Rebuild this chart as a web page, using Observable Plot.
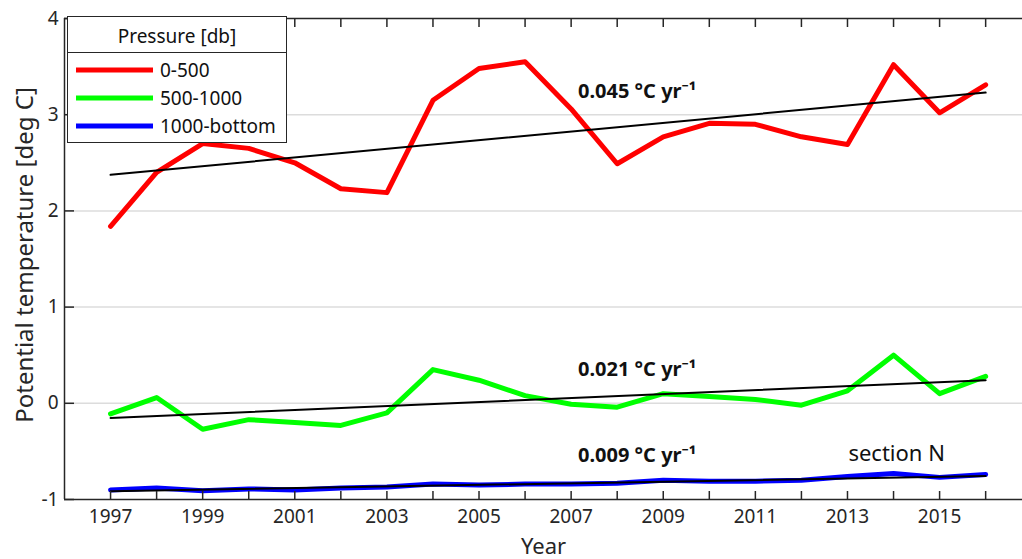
<!DOCTYPE html>
<html>
<head>
<meta charset="utf-8">
<script src="https://cdn.jsdelivr.net/npm/d3@7"></script>
<script src="https://cdn.jsdelivr.net/npm/@observablehq/plot@0.6"></script>
<style>
  body { margin: 0; background: #fff; }
  #wrap { position: relative; width: 1022px; height: 559px; font-family: "Noto Sans", sans-serif; color: #262626; }
  #legend { position: absolute; left: 67px; top: 16px; width: 218px; height: 125px; background: #fff;
            border: 1.5px solid #262626; box-sizing: content-box; }
  #legend .ttl { height: 35px; border-bottom: 1.5px solid #262626; text-align: center; font-size: 19px; line-height: 38px; color: #111; }
  #legend .items { padding-top: 3px; }
  #legend .item { height: 28px; display: flex; align-items: center; font-size: 19px; color: #111; }
  #legend .item svg { margin-left: 8px; margin-right: 7px; }
</style>
</head>
<body>
<div id="wrap"></div>
<script>
// ---- data ----
const years = [1997, 1998, 1999, 2000, 2001, 2002, 2003, 2004, 2005, 2006,
               2007, 2008, 2009, 2010, 2011, 2012, 2013, 2014, 2015, 2016];
const series = ["0-500", "500-1000", "1000-bottom"];
const colors = ["#ff0000", "#00ff00", "#0000ff"];
const temp0_500 = [1.84, 2.40, 2.70, 2.65, 2.50, 2.23, 2.19, 3.15, 3.48, 3.55,
                   3.06, 2.49, 2.77, 2.91, 2.90, 2.77, 2.69, 3.52, 3.02, 3.31];
const temp500_1000 = [-0.11, 0.06, -0.27, -0.17, -0.20, -0.23, -0.10, 0.35, 0.24, 0.08,
                      -0.01, -0.04, 0.10, 0.07, 0.04, -0.02, 0.13, 0.50, 0.10, 0.28];
const temp1000_bottom = [-0.90, -0.88, -0.91, -0.89, -0.90, -0.88, -0.87, -0.84, -0.85, -0.84,
                         -0.84, -0.83, -0.80, -0.81, -0.81, -0.80, -0.76, -0.73, -0.77, -0.74];
const trendStart = [2.375, -0.152, -0.915];   // trend value at 1997
const trendEnd = [3.23, 0.24, -0.756];        // trend value at 2016
const trendLabels = ["0.045 °C yr⁻¹", "0.021 °C yr⁻¹", "0.009 °C yr⁻¹"];
const trendLabelX = [2007.15, 2007.15, 2007.15];
const trendLabelY = [3.17, 0.28, -0.605];
const sectionLabel = ["section N"];
const sectionX = [2013.02];
const sectionY = [-0.595];
const yTicks = [-1, 0, 1, 2, 3, 4];
const yGrid = [0, 1, 2, 3];
const xLabelYears = [1997, 1999, 2001, 2003, 2005, 2007, 2009, 2011, 2013, 2015];

// ---- tables ----
const values = [temp0_500, temp500_1000, temp1000_bottom];
const rows = series.flatMap((s, i) => years.map((yr, j) => ({series: s, year: yr, temp: values[i][j]})));
const trends = series.flatMap((s, i) => [
  {series: s, year: years[0], temp: trendStart[i]},
  {series: s, year: years[years.length - 1], temp: trendEnd[i]}
]);
const notes = trendLabels.map((t, i) => ({text: t, x: trendLabelX[i], y: trendLabelY[i]}));
const section = sectionLabel.map((t, i) => ({text: t, x: sectionX[i], y: sectionY[i]}));

const ink = "#262626";
const plot = Plot.plot({
  width: 1022, height: 559,
  marginLeft: 64, marginRight: 0, marginTop: 18, marginBottom: 60,
  style: {fontFamily: "Noto Sans", fontSize: "18px", color: ink, background: "white", overflow: "visible"},
  x: {domain: [1996, 2016.8]},
  y: {domain: [-1, 4]},
  color: {domain: series, range: colors},
  marks: [
    Plot.gridY(yGrid, {stroke: "#dcdcdc", strokeOpacity: 1, strokeWidth: 1.5}),
    Plot.line(rows, {x: "year", y: "temp", z: "series", stroke: "series", strokeWidth: 5, strokeLinejoin: "round"}),
    Plot.line(trends, {x: "year", y: "temp", z: "series", stroke: "black", strokeWidth: 2}),
    Plot.ruleY([-1, 4], {stroke: ink, strokeWidth: 1.5}),
    Plot.ruleX([1996], {stroke: ink, strokeWidth: 1.5}),
    Plot.axisX(years, {anchor: "bottom", tickSize: -8, tickFormat: () => "", stroke: ink, strokeWidth: 1.5, label: null}),
    Plot.axisX(years, {anchor: "top", tickSize: -8, tickFormat: () => "", stroke: ink, strokeWidth: 1.5, label: null}),
    Plot.axisX(xLabelYears, {anchor: "bottom", tickSize: 0, tickPadding: 10, tickFormat: d => String(d), fill: ink, fontSize: 19, label: null}),
    Plot.axisY(yTicks, {anchor: "left", tickSize: -10, tickFormat: () => "", stroke: ink, strokeWidth: 1.5, label: null}),
    Plot.axisY(yTicks, {anchor: "left", tickSize: 0, tickPadding: 6, tickFormat: d => String(d), fill: ink, fontSize: 19, label: null}),
    Plot.text(["Year"], {frameAnchor: "bottom", dy: 54, textAnchor: "middle", lineAnchor: "bottom", fontSize: 22, fill: ink}),
    Plot.text(["Potential temperature [deg C]"], {frameAnchor: "left", dx: -39, dy: -4, rotate: -90, textAnchor: "middle", lineAnchor: "middle", fontSize: 24, fill: ink}),
    Plot.text(notes, {x: "x", y: "y", text: "text", textAnchor: "start", lineAnchor: "bottom", fontWeight: "bold", fontSize: 20, fill: "#111"}),
    Plot.text(section, {x: "x", y: "y", text: "text", textAnchor: "start", lineAnchor: "bottom", fontSize: 22, fill: "#111"})
  ]
});

const wrap = document.getElementById("wrap");
wrap.appendChild(plot);

// legend
const legend = document.createElement("div");
legend.id = "legend";
const ttl = document.createElement("div");
ttl.className = "ttl";
ttl.textContent = "Pressure [db]";
legend.appendChild(ttl);
const items = document.createElement("div");
items.className = "items";
series.forEach((s, i) => {
  const it = document.createElement("div");
  it.className = "item";
  it.innerHTML = `<svg width="77" height="8"><line x1="0" x2="77" y1="4" y2="4" stroke="${colors[i]}" stroke-width="5"/></svg><span>${s}</span>`;
  items.appendChild(it);
});
legend.appendChild(items);
wrap.appendChild(legend);
</script>
</body>
</html>
